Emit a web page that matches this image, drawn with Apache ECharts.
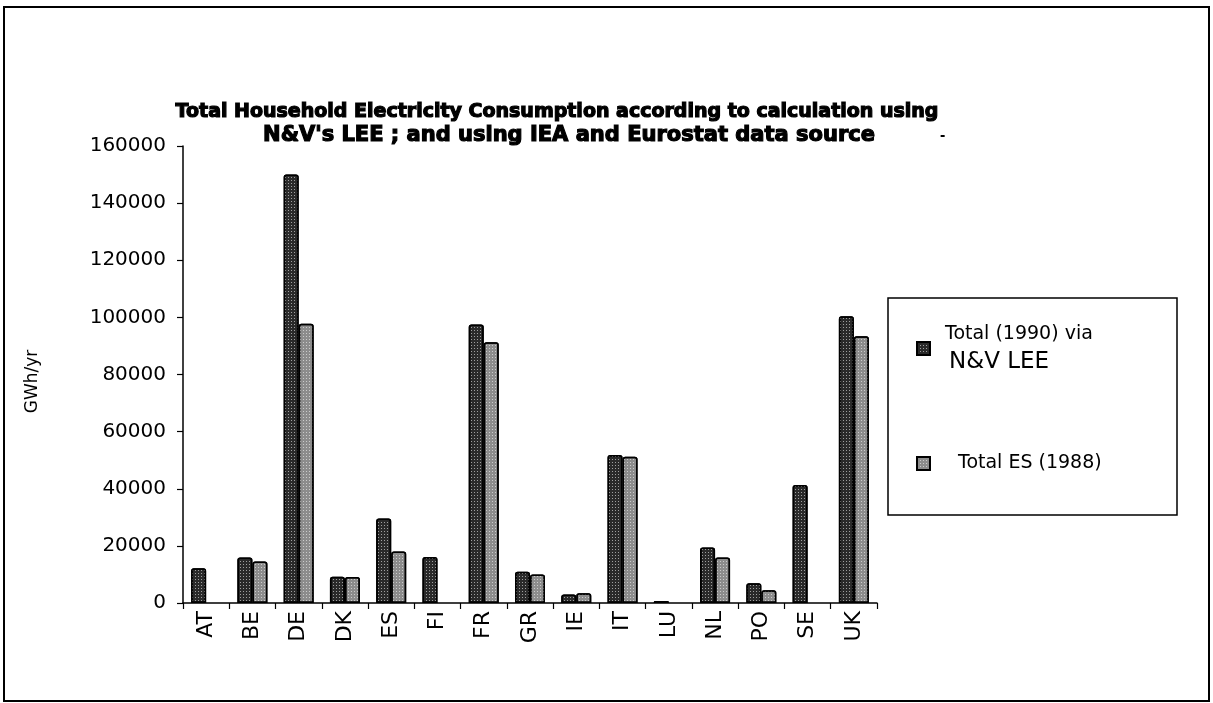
<!DOCTYPE html>
<html>
<head>
<meta charset="utf-8">
<script src="https://cdn.jsdelivr.net/npm/echarts@6/dist/echarts.min.js"></script>
<style>
    html, body { margin: 0; padding: 0; background: #fff; }
    #chart { width: 1213px; height: 703px; }
</style>
</head>
<body>
<div id="chart"></div>
<script>
// countries on the x axis
const countries = ['AT', 'BE', 'DE', 'DK', 'ES', 'FI', 'FR', 'GR', 'IE', 'IT', 'LU', 'NL', 'PO', 'SE', 'UK']
// Total (1990) via N&V LEE, GWh/yr
const leeTotal = [12200, 15900, 150000, 9200, 29600, 16100, 97500, 10900, 3000, 51800, 700, 19400, 6900, 41300, 100400]
// Total ES (1988), GWh/yr  (null = no bar)
const esTotal = [null, 14500, 97800, 9100, 18000, null, 91300, 10000, 3400, 51200, null, 15900, 4500, null, 93400]
const yTicks = [0, 20000, 40000, 60000, 80000, 100000, 120000, 140000, 160000]

const titleLine1 = 'Total Household Electricity Consumption according to calculation using'
const titleLine2 = "N&V's LEE ; and using IEA and Eurostat data source"

var myChart = echarts.init(document.getElementById('chart'))

// stipple look for the bars
function dots(bg) {
    return {
        color: bg,
        decal: {
            symbol: 'rect',
            symbolSize: 1,
            color: 'rgba(255,255,255,0.55)',
            dashArrayX: [1, 2],
            dashArrayY: [1, 2],
            rotation: 0
        },
        borderColor: '#000',
        borderWidth: 1.5,
        borderRadius: [2, 2, 0, 0]
    }
}

const titleStyle = {
    fontFamily: 'DejaVu Sans',
    fontWeight: 'bold',
    fontSize: 19,
    color: '#000',
    textBorderColor: '#000',
    textBorderWidth: 1.2
}

let option = {
    backgroundColor: '#fff',
    animation: false,
    title: [
        { text: titleLine1, left: 557, top: 103, textAlign: 'center', textStyle: titleStyle, padding: 0 },
        { text: titleLine2, left: 569, top: 125, textAlign: 'center', textStyle: Object.assign({}, titleStyle, { fontSize: 21 }), padding: 0 }
    ],
    grid: {
        left: 183,
        right: 336,
        top: 146,
        bottom: 100
    },
    xAxis: {
        type: 'category',
        data: countries,
        axisLine: { lineStyle: { color: '#000', width: 1.5 } },
        axisTick: { show: true, length: 6, lineStyle: { color: '#000', width: 1.2 } },
        axisLabel: {
            rotate: 90,
            interval: 0,
            margin: 8,
            fontFamily: 'DejaVu Sans',
            fontSize: 22,
            color: '#000'
        }
    },
    yAxis: {
        type: 'value',
        min: yTicks[0],
        max: yTicks[yTicks.length - 1],
        interval: 20000,
        name: 'GWh/yr',
        nameLocation: 'middle',
        nameGap: 142,
        nameRotate: 90,
        nameTextStyle: { fontFamily: 'DejaVu Sans', fontSize: 17, color: '#000', padding: [0, 0, 0, -14] },
        axisLine: { show: true, lineStyle: { color: '#000', width: 1.5 } },
        axisTick: { show: true, length: 6, lineStyle: { color: '#000', width: 1.2 } },
        splitLine: { show: false },
        axisLabel: {
            margin: 17,
            fontFamily: 'DejaVu Sans',
            fontSize: 20,
            color: '#000',
            formatter: function (v) { return String(v) }
        }
    },
    legend: {
        orient: 'vertical',
        left: 911,
        top: 320,
        itemWidth: 13,
        itemHeight: 13,
        itemGap: 80,
        icon: 'rect',
        selectedMode: false,
        textStyle: {
            fontFamily: 'DejaVu Sans',
            fontSize: 20,
            color: '#000',
            rich: {
                a: { fontFamily: 'DejaVu Sans', fontSize: 19, lineHeight: 28, padding: [0, 0, 0, 10] },
                b: { fontFamily: 'DejaVu Sans', fontSize: 23, lineHeight: 28, padding: [0, 0, 0, 14] },
                c: { fontFamily: 'DejaVu Sans', fontSize: 19, padding: [0, 0, 0, 23] }
            }
        },
        formatter: function (name) {
            if (name === 'Total (1990) via N&V LEE') return '{a|Total (1990) via}\n{b|N&V LEE}'
            return '{c|' + name + '}'
        },
        data: ['Total (1990) via N&V LEE', 'Total ES (1988)']
    },
    graphic: [
        // legend frame
        { type: 'rect', shape: { x: 888, y: 298, width: 289, height: 217 }, style: { fill: 'none', stroke: '#000', lineWidth: 1.5 }, silent: true },
        // outer frame
        { type: 'rect', shape: { x: 4, y: 7, width: 1205, height: 694 }, style: { fill: 'none', stroke: '#000', lineWidth: 2 }, silent: true },
        // stray mark next to the title
        { type: 'text', left: 940, top: 128, style: { text: '-', fontSize: 16, fontWeight: 'bold', fill: '#000' }, silent: true }
    ],
    series: [
        {
            name: 'Total (1990) via N&V LEE',
            type: 'bar',
            barWidth: 15,
            barGap: '0%',
            itemStyle: dots('#2a2a2a'),
            data: leeTotal
        },
        {
            name: 'Total ES (1988)',
            type: 'bar',
            barWidth: 15,
            barGap: '0%',
            itemStyle: dots('#8c8c8c'),
            data: esTotal
        }
    ]
}

myChart.setOption(option)
</script>
</body>
</html>
